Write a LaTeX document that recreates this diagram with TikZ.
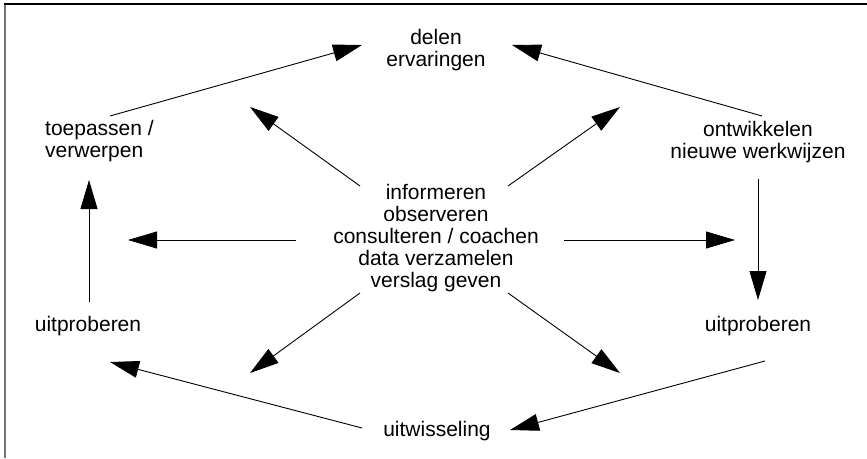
\documentclass[tikz,border=0pt]{standalone}
\usepackage{fontspec}
\setmainfont{Liberation Sans}
\usetikzlibrary{arrows.meta,positioning,calc}

\begin{document}
\begin{tikzpicture}[
      x=1pt,y=-1pt,
      stepText/.style={inner sep=0pt,align=center,
                       font=\fontsize{21}{22.2}\selectfont},
      arFlow/.style={-{Triangle[length=29pt,width=17pt]},line width=0.9pt,black}
    ]
    \useasboundingbox (0,0) rectangle (867,458);

    % Frame (left and top edges only)
    \draw[line width=1.6pt,black!55] (5,458) -- (5,4);
    \draw[line width=1.2pt,black] (4,4) -- (867,4);

    % Outer ring of steps
    \node(delen)[stepText] at (436,50) {delen\\ervaringen};
    \node(toep)[stepText,align=left,anchor=west] at (45,141) {toepassen /\\verwerpen};
    \node(ontw)[stepText] at (758,142) {ontwikkelen\\nieuwe werkwijzen};
    \node(uitL)[stepText] at (88,326) {uitproberen};
    \node(uitR)[stepText] at (758,326) {uitproberen};
    \node(uitw)[stepText] at (437,431) {uitwisseling};

    % Central activities
    \node(info)[stepText] at (436,238) {informeren\\observeren\\consulteren / coachen\\data verzamelen\\verslag geven};

    % Free ends of the radiating arrows
    \coordinate(pUL) at (250,107);
    \coordinate(pUR) at (620,107);
    \coordinate(pL)  at (128,240);
    \coordinate(pR)  at (735,240);
    \coordinate(pLL) at (250,373);
    \coordinate(pLR) at (620,373);

    % Cycle arrows
    \draw[arFlow] ([shift={(65,-25)}]toep.west) -- ([shift={(-74,-5)}]delen.center);
    \draw[arFlow] ([shift={(4,-26)}]ontw.center) -- ([shift={(76,-5)}]delen.center);
    \draw[arFlow] ([shift={(0,37)}]ontw.center) -- ([shift={(0,-26)}]uitR.center);
    \draw[arFlow] ([shift={(7,35)}]uitR.center) -- ([shift={(73,-1)}]uitw.center);
    \draw[arFlow] ([shift={(-75,-3)}]uitw.center) -- ([shift={(22,36)}]uitL.center);
    \draw[arFlow] ([shift={(1,-24)}]uitL.center) -- ([shift={(44,39)}]toep.west);

    % Radiating arrows from the centre
    \draw[arFlow] ([shift={(-76,-52)}]info.center) -- (pUL);
    \draw[arFlow] ([shift={(72,-52)}]info.center) -- (pUR);
    \draw[arFlow] ([shift={(-140,2)}]info.center) -- (pL);
    \draw[arFlow] ([shift={(128,2)}]info.center) -- (pR);
    \draw[arFlow] ([shift={(-76,55)}]info.center) -- (pLL);
    \draw[arFlow] ([shift={(72,55)}]info.center) -- (pLR);
  \end{tikzpicture}
\end{document}
